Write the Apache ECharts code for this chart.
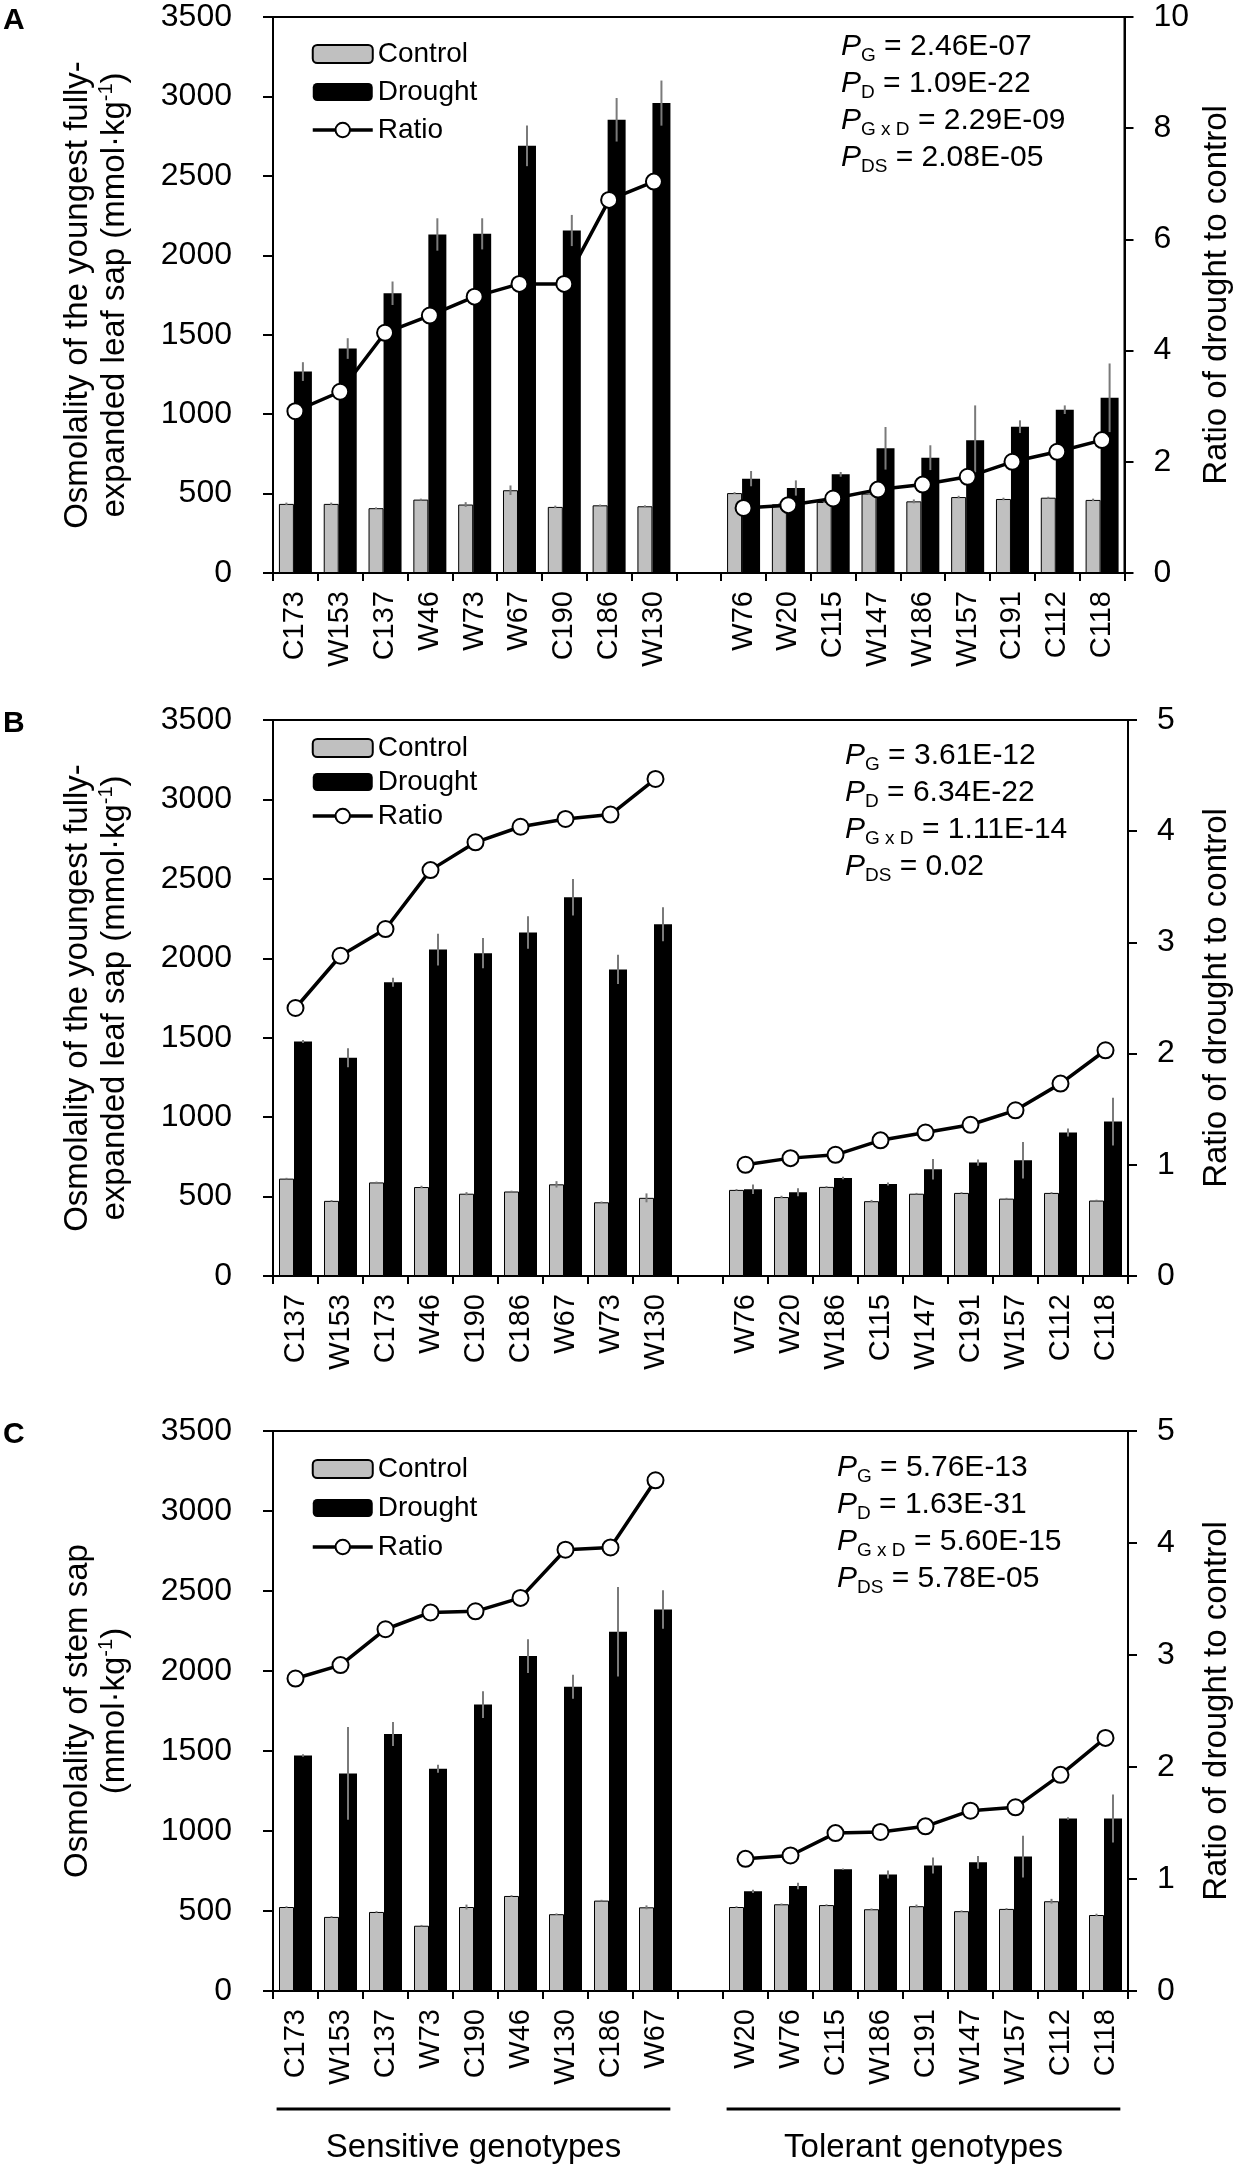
<!DOCTYPE html>
<html>
<head>
<meta charset="utf-8">
<script src="https://cdn.jsdelivr.net/npm/echarts@6/dist/echarts.min.js"></script>
<style>
  html, body { margin: 0; padding: 0; background: #fff; }
  #chart { width: 1241px; height: 2168px; }
</style>
</head>
<body>
<div id="chart"></div>
<script>
// Panel A: youngest leaf sap
const catsA = ["C173", "W153", "C137", "W46", "W73", "W67", "C190", "C186", "W130", "",
  "W76", "W20", "C115", "W147", "W186", "W157", "C191", "C112", "C118"];
const controlA = [435, 435, 408, 462, 431, 521, 416, 426, 420, null, 503, 432, 447, 500, 451, 478, 466, 474, 460];
const controlErrA = [8, 8, 5, 6, 15, 30, 8, 5, 6, null, 6, 8, 6, 8, 12, 8, 8, 6, 8];
const droughtA = [1268, 1413, 1761, 2131, 2135, 2689, 2156, 2853, 2958, null, 594, 535, 621, 785, 726, 835, 921, 1028, 1103];
const droughtErrA = [59, 65, 74, 102, 98, 128, 98, 137, 142, null, 48, 48, 15, 134, 78, 220, 40, 27, 216];
const ratioA = [2.91, 3.26, 4.32, 4.63, 4.97, 5.2, 5.2, 6.71, 7.04, null, 1.17, 1.22, 1.34, 1.5, 1.59, 1.73, 2.0, 2.18, 2.39];
const pvalsA = ["2.46E-07", "1.09E-22", "2.29E-09", "2.08E-05"];

// Panel B: youngest leaf sap (second experiment)
const catsB = ["C137", "W153", "C173", "W46", "C190", "C186", "W67", "W73", "W130", "",
  "W76", "W20", "W186", "C115", "W147", "C191", "W157", "C112", "C118"];
const controlB = [613, 473, 589, 560, 518, 532, 577, 464, 492, null, 542, 497, 561, 471, 518, 523, 487, 523, 475];
const controlErrB = [5, 5, 5, 8, 10, 5, 20, 5, 28, null, 5, 8, 5, 8, 5, 5, 5, 5, 5];
const droughtB = [1476, 1374, 1849, 2055, 2032, 2162, 2384, 1930, 2214, null, 546, 527, 617, 579, 672, 714, 728, 903, 972];
const droughtErrB = [10, 60, 28, 100, 95, 102, 115, 92, 107, null, 30, 25, 8, 10, 65, 20, 115, 25, 150];
const ratioB = [2.41, 2.88, 3.12, 3.65, 3.9, 4.04, 4.11, 4.15, 4.47, null, 1.0, 1.06, 1.09, 1.22, 1.29, 1.36, 1.49, 1.73, 2.03];
const pvalsB = ["3.61E-12", "6.34E-22", "1.11E-14", "0.02"];

// Panel C: stem sap
const catsC = ["C173", "W153", "C137", "W73", "C190", "W46", "W130", "C186", "W67", "",
  "W20", "W76", "C115", "W186", "C191", "W147", "W157", "C112", "C118"];
const controlC = [525, 463, 494, 408, 525, 594, 480, 565, 523, null, 525, 542, 537, 511, 530, 499, 513, 561, 475];
const controlErrC = [5, 5, 5, 5, 15, 5, 5, 5, 12, null, 5, 5, 5, 5, 10, 5, 5, 15, 8];
const droughtC = [1472, 1360, 1606, 1389, 1790, 2093, 1902, 2245, 2384, null, 623, 656, 761, 728, 785, 804, 840, 1078, 1078];
const droughtErrC = [8, 290, 75, 25, 83, 105, 75, 280, 120, null, 10, 20, 5, 25, 50, 40, 130, 8, 150];
const ratioC = [2.79, 2.91, 3.23, 3.38, 3.39, 3.51, 3.94, 3.96, 4.56, null, 1.18, 1.21, 1.41, 1.42, 1.47, 1.61, 1.64, 1.93, 2.26];
const pvalsC = ["5.76E-13", "1.63E-31", "5.60E-15", "5.78E-05"];

const groupLabels = ["Sensitive genotypes", "Tolerant genotypes"];

const FONT = "'Liberation Sans', Arial, sans-serif";
const CONTROL_W = 15;
const DROUGHT_W = 18;

const panels = [
  {
    letter: "A", cats: catsA, control: controlA, controlErr: controlErrA,
    drought: droughtA, droughtErr: droughtErrA, ratio: ratioA, pvals: pvalsA,
    ratioMax: 10, ratioStep: 2,
    yName: "Osmolality of the youngest fully-\nexpanded leaf sap (mmol·kg{sup|-1})",
    top: 17, height: 556, legendTop: 18, legendGap: 12, pTop: 15, pLeft: 841,
  },
  {
    letter: "B", cats: catsB, control: controlB, controlErr: controlErrB,
    drought: droughtB, droughtErr: droughtErrB, ratio: ratioB, pvals: pvalsB,
    ratioMax: 5, ratioStep: 1,
    yName: "Osmolality of the youngest fully-\nexpanded leaf sap (mmol·kg{sup|-1})",
    top: 720, height: 556, legendTop: 9, legendGap: 8, pTop: 21, pLeft: 845,
  },
  {
    letter: "C", cats: catsC, control: controlC, controlErr: controlErrC,
    drought: droughtC, droughtErr: droughtErrC, ratio: ratioC, pvals: pvalsC,
    ratioMax: 5, ratioStep: 1,
    yName: "Osmolality of stem sap\n(mmol·kg{sup|-1})",
    top: 1431, height: 560, legendTop: 19, legendGap: 13, pTop: 22, pLeft: 837,
  },
];

function errorRender(offset) {
  return function (params, api) {
    const x = api.value(0);
    const v = api.value(1);
    const e = api.value(2);
    const lo = api.coord([x, v - e]);
    const hi = api.coord([x, v + e]);
    return {
      type: "line",
      shape: { x1: lo[0] + offset, y1: lo[1], x2: hi[0] + offset, y2: hi[1] },
      style: { stroke: "#7a7a7a", lineWidth: 2 },
    };
  };
}

function errorData(values, errs) {
  const out = [];
  values.forEach((v, k) => {
    if (v != null) out.push([k, v, errs[k]]);
  });
  return out;
}

function pText(vals) {
  const subs = ["G", "D", "G x D", "DS"];
  return subs.map((s, k) => `{i|P}{s|${s}}{n| = ${vals[k]}}`).join("\n");
}

const axisLineStyle = { color: "#000", width: 2 };
const plainNumber = (v) => String(v);

const grid = [];
const xAxis = [];
const yAxis = [];
const series = [];
const legend = [];
const graphic = [];

panels.forEach((p, i) => {
  grid.push({
    left: 273, right: 113, top: p.top, height: p.height,
    show: true, borderColor: "#000", borderWidth: 2, backgroundColor: "transparent",
  });
  xAxis.push({
    type: "category", gridIndex: i, data: p.cats,
    axisLine: { lineStyle: axisLineStyle },
    axisTick: { show: true, length: 8, lineStyle: axisLineStyle },
    axisLabel: { rotate: 90, fontSize: 29, color: "#000", margin: 18, fontFamily: FONT, interval: 0 },
  });
  yAxis.push({
    type: "value", gridIndex: i, min: 0, max: 3500, interval: 500, position: "left",
    axisLine: { show: true, lineStyle: axisLineStyle },
    axisTick: { show: true, length: 10, lineStyle: axisLineStyle },
    splitLine: { show: false },
    axisLabel: { fontSize: 32, color: "#000", margin: 41, fontFamily: FONT, formatter: plainNumber },
    name: p.yName, nameLocation: "middle", nameRotate: 90, nameGap: 140,
    nameTextStyle: {
      fontSize: 33, lineHeight: 37, color: "#000", fontFamily: FONT,
      rich: { sup: { fontSize: 20, lineHeight: 24, verticalAlign: "top", color: "#000", fontFamily: FONT } },
    },
  });
  yAxis.push({
    type: "value", gridIndex: i, min: 0, max: p.ratioMax, interval: p.ratioStep, position: "right",
    axisLine: { show: true, lineStyle: axisLineStyle },
    axisTick: { show: true, length: 9, lineStyle: axisLineStyle },
    splitLine: { show: false },
    axisLabel: { fontSize: 32, color: "#000", margin: 29, fontFamily: FONT, formatter: plainNumber },
    name: "Ratio of drought to control", nameLocation: "middle", nameRotate: 90, nameGap: 72,
    nameTextStyle: { fontSize: 33, color: "#000", fontFamily: FONT },
  });

  series.push({
    name: "Control", type: "bar", xAxisIndex: i, yAxisIndex: 2 * i, data: p.control,
    barWidth: CONTROL_W, barGap: "0%",
    itemStyle: { color: "#c0c0c0", borderColor: "#000", borderWidth: 1 }, z: 2,
  });
  series.push({
    name: "Drought", type: "bar", xAxisIndex: i, yAxisIndex: 2 * i, data: p.drought,
    barWidth: DROUGHT_W, barGap: "0%",
    itemStyle: { color: "#000" }, z: 2,
  });
  series.push({
    type: "custom", xAxisIndex: i, yAxisIndex: 2 * i, silent: true, z: 3,
    renderItem: errorRender(-DROUGHT_W / 2), data: errorData(p.control, p.controlErr),
  });
  series.push({
    type: "custom", xAxisIndex: i, yAxisIndex: 2 * i, silent: true, z: 3,
    renderItem: errorRender(CONTROL_W / 2), data: errorData(p.drought, p.droughtErr),
  });
  series.push({
    name: "Ratio", type: "line", xAxisIndex: i, yAxisIndex: 2 * i + 1, data: p.ratio,
    symbol: "circle", symbolSize: 16,
    lineStyle: { color: "#000", width: 3.5 },
    itemStyle: { color: "#fff", borderColor: "#000", borderWidth: 2 }, z: 5,
  });

  legend.push({
    data: ["Control", "Drought", "Ratio"], orient: "vertical",
    left: 306, top: p.top + p.legendTop, itemWidth: 60, itemHeight: 18, itemGap: p.legendGap - 2,
    selectedMode: false,
    lineStyle: { color: "#000", width: 3.5 },
    textStyle: { fontSize: 28, lineHeight: 28, color: "#000", fontFamily: FONT },
  });

  graphic.push({
    type: "text", left: p.pLeft, top: p.top + p.pTop,
    style: {
      text: pText(p.pvals), fill: "#000", font: `30px ${FONT}`,
      rich: {
        i: { fontSize: 30, lineHeight: 37, fontStyle: "italic", fontFamily: FONT, fill: "#000" },
        s: { fontSize: 19, lineHeight: 22, verticalAlign: "bottom", fontFamily: FONT, fill: "#000" },
        n: { fontSize: 30, lineHeight: 37, fontFamily: FONT, fill: "#000" },
      },
    },
  });
  graphic.push({
    type: "text", left: 3, top: p.top - 11,
    style: { text: p.letter, fill: "#000", fontSize: 30, fontWeight: "bold", fontFamily: FONT },
  });
});

const chart = echarts.init(document.getElementById("chart"));
chart.setOption({
  backgroundColor: "#fff",
  animation: false,
  textStyle: { fontFamily: FONT },
  grid, xAxis, yAxis, series, legend, graphic,
});

// genotype group brackets under panel C
const last = panels.length - 1;
const band = chart.convertToPixel({ xAxisIndex: last }, 1) - chart.convertToPixel({ xAxisIndex: last }, 0);
const groups = [[0, 8], [10, 18]];
const baseY = panels[last].top + panels[last].height;
groups.forEach((g, k) => {
  const x1 = chart.convertToPixel({ xAxisIndex: last }, g[0]) - band * 0.42;
  const x2 = chart.convertToPixel({ xAxisIndex: last }, g[1]) + band * 0.33;
  graphic.push({
    type: "line", shape: { x1, y1: baseY + 118, x2, y2: baseY + 118 },
    style: { stroke: "#000", lineWidth: 3 },
  });
  graphic.push({
    type: "text", x: (x1 + x2) / 2, y: baseY + 157,
    style: { text: groupLabels[k], fill: "#000", font: `33px ${FONT}`, align: "center", verticalAlign: "middle" },
  });
});
chart.setOption({ graphic });
</script>
</body>
</html>
